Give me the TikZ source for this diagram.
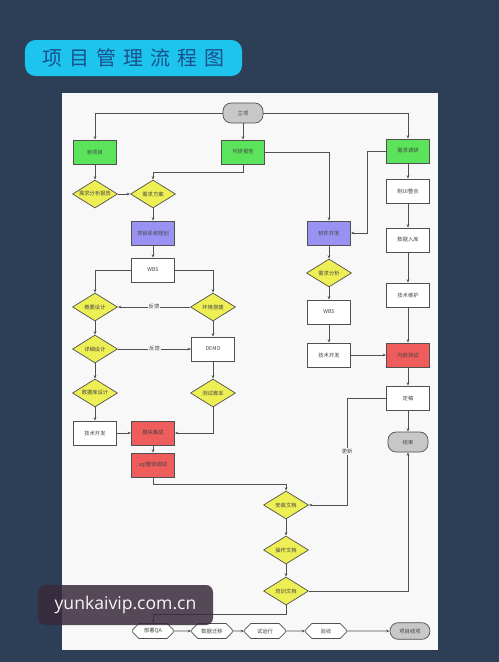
\documentclass[tikz,border=0pt]{standalone}
\usepackage{fontspec}
\newfontfamily\cjk{Noto Sans CJK SC}
\newfontfamily\cjktitle[LetterSpace=35]{Noto Sans CJK SC}
\newfontfamily\wmfont{Open Sans}
\definecolor{PageNavy}{HTML}{2C3F57}
\definecolor{Paper}{HTML}{F8F8F8}
\definecolor{TitleCyan}{HTML}{1CC4EE}
\definecolor{TitleBlue}{HTML}{1B4E8C}
\definecolor{LineGray}{HTML}{505050}
\definecolor{TextGray}{HTML}{444444}
\definecolor{BoxGreen}{HTML}{5BE35B}
\definecolor{BoxYellow}{HTML}{EEEE55}
\definecolor{BoxPurple}{HTML}{9A92F2}
\definecolor{BoxRed}{HTML}{EE5C5C}
\definecolor{BoxGray}{HTML}{C8C8C8}
\definecolor{MarkDark}{HTML}{3A2B3B}
\usetikzlibrary{positioning, arrows.meta, shapes.geometric, shapes.misc, calc}

\begin{document}
\begin{tikzpicture}[
  x=0.03cm, y=-0.03cm,
  bx/.style={draw=LineGray, line width=0.6pt, minimum width=1.29cm, minimum height=0.72cm,
    inner sep=1pt, font=\cjk\fontsize{4.5}{5}\selectfont, text=TextGray},
  gbx/.style={bx, fill=BoxGreen},
  pbx/.style={bx, fill=BoxPurple},
  rbx/.style={bx, fill=BoxRed},
  wbx/.style={bx, fill=white},
  dm/.style={bx, diamond, aspect=1.6, fill=BoxYellow, minimum width=1.35cm, minimum height=0.84cm, inner sep=0pt},
  term/.style={bx, rounded corners=7pt, fill=BoxGray, minimum width=1.2cm, minimum height=0.6cm},
  hx/.style={bx, chamfered rectangle, chamfered rectangle xsep=2.5pt, fill=white, minimum width=1.22cm, minimum height=0.45cm},
  ln/.style={draw=LineGray, line width=0.6pt, -{Stealth[length=3pt]}},
  lbl/.style={font=\cjk\fontsize{4.5}{5}\selectfont, text=TextGray, fill=Paper, inner sep=1pt},
]
  \useasboundingbox (0,0) rectangle (499,662);
  \fill[PageNavy] (0,0) rectangle (499,662);
  \fill[Paper] (62,93) rectangle (438,650);
  % Title
  \node[fill=TitleCyan, rounded corners=9pt, minimum width=6.51cm, minimum height=1.08cm,
    text=TitleBlue, font=\cjktitle\fontsize{17}{20}\selectfont] (ttl) at (133.5,58) {项目管理流程图};
  % Top row
  \node[term] (st) at (243,113) {立项};
  \node[gbx] (gL) at (95,152) {新项目};
  \node[gbx] (gM) at (243,152) {可研报告};
  \node[gbx] (gR) at (408,151) {需求调研};
  % Left branch
  \node[dm] (xq) at (95,194) {需求分析报告};
  \node[dm] (fa) at (153,194) {需求方案};
  \node[pbx] (gh) at (153,233) {项目系统规划};
  \node[wbx] (wL) at (153,270) {WBS};
  \node[dm] (gy) at (95,307) {概要设计};
  \node[dm] (hj) at (213,307) {环境搭建};
  \node[dm] (xx) at (95,349) {详细设计};
  \node[wbx] (demo) at (213,349) {DEMO};
  \node[dm] (sjk) at (95,393) {数据库设计};
  \node[dm] (cs) at (213,393) {测试脚本};
  \node[wbx] (kfL) at (95,433) {技术开发};
  \node[rbx] (jc) at (153,433) {模块集成};
  \node[rbx] (tst) at (153,465) {sql整体调试};
  % Middle branch
  \node[pbx] (rj) at (329,233) {软件开发};
  \node[dm] (fx) at (329,273) {需求分析};
  \node[wbx] (wM) at (329,312) {WBS};
  \node[wbx] (kfM) at (329,355) {技术开发};
  % Right branch
  \node[wbx] (ui) at (408,191) {制UI整合};
  \node[wbx] (rk) at (408,240) {数据入库};
  \node[wbx] (wh) at (408,295) {技术维护};
  \node[rbx] (nb) at (408,355) {内部测试};
  \node[wbx] (dg) at (408,398) {定稿};
  \node[term] (js) at (408,442) {结束};
  % Documents
  \node[dm] (az) at (286,505) {安装文档};
  \node[dm] (cz) at (286,550) {操作文档};
  \node[dm] (px) at (286,591) {培训文档};
  % Bottom row
  \node[hx] (qa) at (153,631) {部署QA};
  \node[hx] (qy) at (212,631) {数据迁移};
  \node[hx] (syx) at (265,631) {试运行};
  \node[hx] (ys) at (326,631) {验收};
  \node[term, minimum height=0.5cm] (jx) at (410,631) {项目结项};

  % Connectors
  \draw[ln] (st.west) -| (gL);
  \draw[ln] (st) -- (gM);
  \draw[ln] (st.east) -| (gR);
  \draw[ln] (gL) -- (xq);
  \draw[ln] (xq) -- (fa);
  \draw[ln] (gM.south) -- (gM.south |- 0,172) -| (fa);
  \draw[ln] (fa) -- (gh);
  \draw[ln] (gh) -- (wL);
  \draw[ln] (wL.west) -| (gy);
  \draw[ln] (wL.east) -| (hj);
  \draw[ln] (hj) -- node[lbl] {反馈} (gy);
  \draw[ln] (gy) -- (xx);
  \draw[ln] (hj) -- (demo);
  \draw[ln] (xx) -- node[lbl] {反馈} (demo);
  \draw[ln] (xx) -- (sjk);
  \draw[ln] (demo) -- (cs);
  \draw[ln] (sjk) -- (kfL);
  \draw[ln] (kfL) -- (jc);
  \draw[ln] (cs) |- (jc);
  \draw[ln] (jc) -- (tst);
  \draw[ln] (tst.south) -- (tst.south |- 0,484) -| (az);
  \draw[ln] (gM.east) -| (rj);
  \draw[ln] (gR.west) -- ++(-19,0) |- (rj.east);
  \draw[ln] (rj) -- (fx);
  \draw[ln] (fx) -- (wM);
  \draw[ln] (wM) -- (kfM);
  \draw[ln] (kfM) -- (nb);
  \draw[ln] (gR) -- (ui);
  \draw[ln] (ui) -- (rk);
  \draw[ln] (rk) -- (wh);
  \draw[ln] (wh) -- (nb);
  \draw[ln] (nb) -- (dg);
  \draw[ln] (dg) -- (js);
  \draw[ln] (dg.west) -- ++(-39,0) |- node[lbl, pos=0.25] {更新} (az.east);
  \draw[ln] (az) -- (cz);
  \draw[ln] (cz) -- (px);
  \draw[ln] (px.east) -| (js);
  \draw[ln] (px.south) -- ++(0,9) -| (qa);
  \draw[ln] (qa) -- (qy);
  \draw[ln] (qy) -- (syx);
  \draw[ln] (syx) -- (ys);
  \draw[ln] (ys) -- (jx);

  % Watermark
  \node[fill=MarkDark, fill opacity=0.85, text opacity=1, text=white!92!gray, rounded corners=6pt,
    minimum width=5.25cm, minimum height=1.2cm, font=\wmfont\fontsize{15}{18}\selectfont] (wm) at (125.5,605) {yunkaivip.com.cn};
\end{tikzpicture}
\end{document}
